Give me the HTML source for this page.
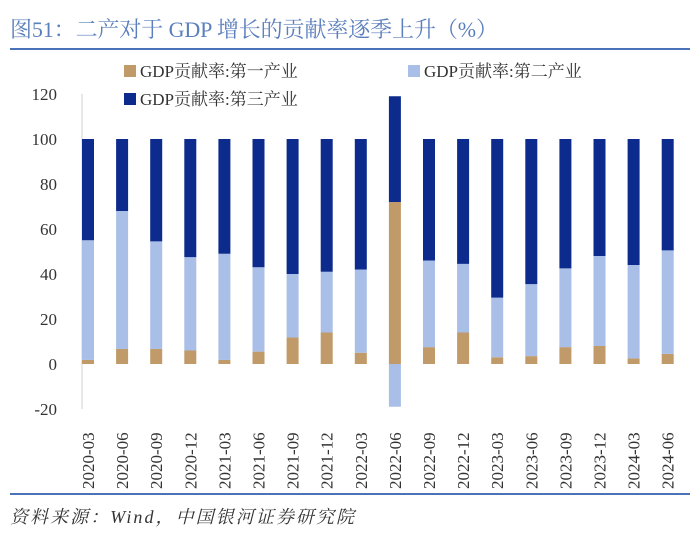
<!DOCTYPE html>
<html><head><meta charset="utf-8">
<style>
body{margin:0;background:#fff;}
#wrap{position:relative;width:700px;height:544px;overflow:hidden;font-family:"Liberation Serif","Noto Serif CJK SC",serif;}
</style></head>
<body>
<div id="wrap">
<svg id="svg" width="700" height="544" xmlns="http://www.w3.org/2000/svg">
<text x="10" y="37" font-size="22" textLength="488" fill="#5b7fbd" font-family="Liberation Serif, Noto Serif CJK SC, serif">图51：二产对于 GDP 增长的贡献率逐季上升（%）</text>
<line x1="10" y1="49" x2="690" y2="49" stroke="#4a72b8" stroke-width="2"/>
<line x1="10" y1="494" x2="690" y2="494" stroke="#4a72b8" stroke-width="2"/>
<text x="10" y="523" font-size="18" textLength="344" fill="#333" font-style="italic" font-family="Liberation Serif, Noto Serif CJK SC, serif">资料来源：Wind，中国银河证券研究院</text>
<g id="legend" font-size="17" fill="#333">
<rect x="124" y="65" width="12" height="12" fill="#c09a68"/>
<text x="140" y="77">GDP贡献率:第一产业</text>
<rect x="408" y="65" width="12" height="12" fill="#a9bfe7"/>
<text x="424" y="77">GDP贡献率:第二产业</text>
<rect x="124" y="93" width="12" height="12" fill="#0d2b8c"/>
<text x="140" y="105">GDP贡献率:第三产业</text>
</g>
<g id="plot"></g>
</svg>
</div>
<script>
const categories=["2020-03","2020-06","2020-09","2020-12","2021-03","2021-06","2021-09","2021-12","2022-03","2022-06","2022-09","2022-12","2023-03","2023-06","2023-09","2023-12","2024-03","2024-06"];
const primary=[1.8,6.7,6.7,6,1.8,5.5,11.8,14,5,72,7.5,14,3,3.5,7.5,8,2.5,4.5];
const secondary=[53.2,61.3,47.8,41.5,47.2,37.5,28.2,27,37,-19,38.5,30.5,26.5,32,35,40,41.5,46];
const tertiary=[45,32,45.5,52.5,51,57,60,59,58,47,54,55.5,70.5,64.5,57.5,52,56,49.5];
const yTicks=[-20,0,20,40,60,80,100,120];
const NS="http://www.w3.org/2000/svg";
const plot=document.getElementById('plot');
const y0=364, pxPer=2.25;
function yScale(v){return y0-v*pxPer;}
function xScale(i){return 88+i*34.1;}
const bw=12;
function mk(tag,attrs){const e=document.createElementNS(NS,tag);for(const k in attrs)e.setAttribute(k,attrs[k]);plot.appendChild(e);return e;}
const ax=mk('line',{x1:82,y1:yScale(120),x2:82,y2:yScale(-20),stroke:'#d0d0d0','stroke-width':1});


yTicks.forEach(t=>{
  const tx=mk('text',{x:57,y:yScale(t)+6,'text-anchor':'end','font-size':17,fill:'#333'});
  tx.textContent=t;
  
  
});
function bar(i,a,b,fill,name){
  const top=yScale(Math.max(a,b)),bot=yScale(Math.min(a,b));
  const r=mk('rect',{x:xScale(i)-bw/2,y:top,width:bw,height:bot-top,fill:fill});
  
  
}
categories.forEach((c,i)=>{
  let pos=0,neg=0;
  [[primary[i],'#c09a68','bar-primary'],[secondary[i],'#a9bfe7','bar-secondary'],[tertiary[i],'#0d2b8c','bar-tertiary']].forEach(([v,f,n])=>{
    if(v>=0){bar(i,pos,pos+v,f,n);pos+=v;}else{bar(i,neg,neg+v,f,n);neg+=v;}
  });
  const x=xScale(i)+6,y=489;
  const t=mk('text',{x:x,y:y,transform:`rotate(-90 ${x} ${y})`,'font-size':17,fill:'#333'});
  t.textContent=c;
  
  
});
</script>
</body></html>
